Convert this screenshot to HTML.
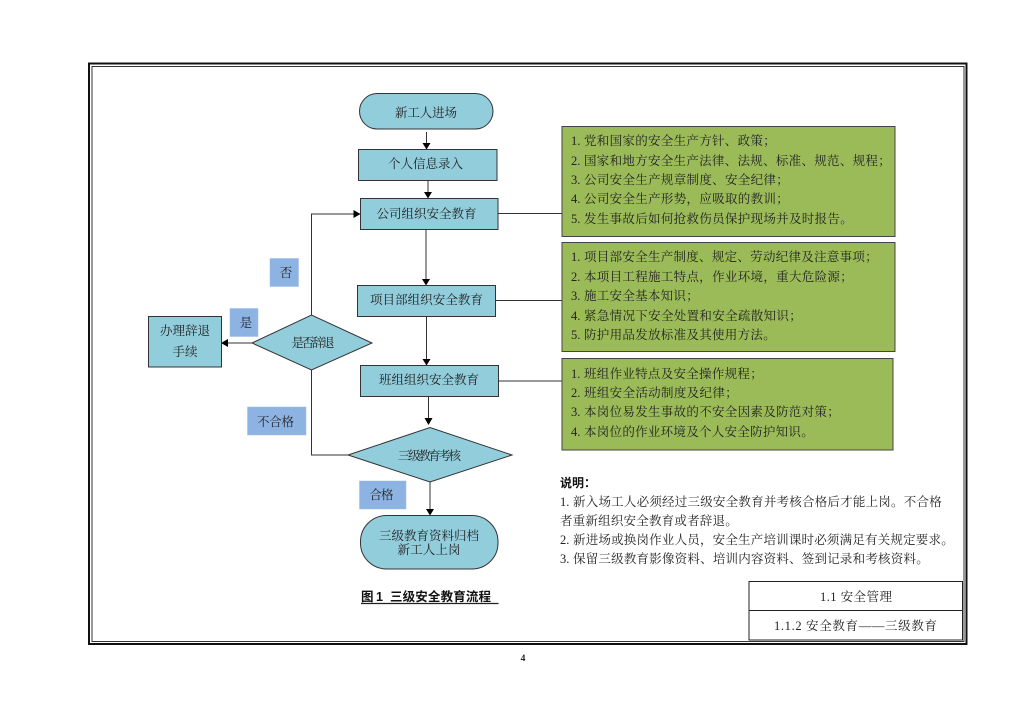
<!DOCTYPE html>
<html lang="zh"><head><meta charset="utf-8"><title>三级安全教育流程</title>
<style>
html,body{margin:0;padding:0;background:#fff;width:1024px;height:724px;overflow:hidden}
svg{display:block}
text{font-family:"Liberation Serif","Noto Serif CJK SC",serif;fill:#222;font-size:12.5px}
.z{font-family:"Noto Serif CJK SC",serif;letter-spacing:.3px}
.c{text-anchor:middle}
.l{stroke:#333;stroke-width:1;fill:none}
.b{fill:#92CDDC;stroke:#333;stroke-width:1}
.g{fill:#9BBB59;stroke:#444;stroke-width:1}
.o{fill:#8DB3E2;stroke:#9dbce6;stroke-width:.5}
.a{fill:#000}
.h{font-family:"Liberation Sans","Noto Sans CJK SC",sans-serif;font-weight:700;fill:#111}
</style></head><body>
<svg width="1024" height="724" viewBox="0 0 1024 724" xmlns="http://www.w3.org/2000/svg">
<rect x="89" y="63.5" width="877.5" height="580.5" fill="none" stroke="#111" stroke-width="2"/>
<rect x="92" y="66.5" width="872" height="575" fill="none" stroke="#333" stroke-width="1"/>

<!-- connectors -->
<path class="l" d="M426.5 132V144M428 180V193M426 229.500V280M426.500 316V360M428.500 396V419M430 482V510"/>
<path class="l" d="M311.500 315V214H354M311.500 370V455H348M252 343H227"/>
<path class="l" d="M498 213.500H562M495.500 300.500H562M498 381H562"/>
<g class="a">
<path d="M422.500 143h8l-4 6.500z"/><path d="M424 192h8l-4 6.500z"/><path d="M422 279h8l-4 6.500z"/><path d="M422.500 359h8l-4 6.500z"/><path d="M424.500 418h8l-4 7z"/><path d="M426 509h8l-4 6.500z"/>
<path d="M353.500 210v8l7-4z"/><path d="M228 339v8l-7-4z"/>
</g>

<!-- nodes -->
<rect class="b" x="359.500" y="93.500" width="133.500" height="35.500" rx="17.700"/>
<rect class="b" x="358.500" y="149.500" width="138.500" height="31"/>
<rect class="b" x="360.500" y="198.500" width="137.500" height="31"/>
<rect class="b" x="357.500" y="285.500" width="138" height="31"/>
<rect class="b" x="360.500" y="365.500" width="138" height="31"/>
<rect class="b" x="148.500" y="316.500" width="73" height="50.500"/>
<path class="b" d="M252 343L311.500 315L372 343L311.500 370Z"/>
<path class="b" d="M348 455L430 427.500L512 455L430 482Z"/>
<rect class="b" x="360.500" y="515.500" width="137.500" height="53.500" rx="26"/>
<rect class="o" x="270" y="258.500" width="28.500" height="28"/>
<rect class="o" x="230" y="308.500" width="28" height="28"/>
<rect class="o" x="247.500" y="407" width="58.500" height="28"/>
<rect class="o" x="359.500" y="481" width="46.500" height="28"/>

<!-- node labels -->
<text x="426" y="117" class="c" textLength="62">新工人进场</text>
<text x="425.500" y="168" class="c" textLength="75">个人信息录入</text>
<text x="426.500" y="218" class="c" textLength="100">公司组织安全教育</text>
<text x="426.500" y="304" class="c" textLength="113">项目部组织安全教育</text>
<text x="429" y="384" class="c" textLength="100">班组组织安全教育</text>
<text x="185" y="335" class="c" textLength="50">办理辞退</text>
<text x="185" y="356" class="c" textLength="25">手续</text>
<text x="313" y="347" class="c" textLength="43">是否辞退</text>
<text x="429.500" y="460" class="c" textLength="63">三级教育考核</text>
<text x="429" y="540" class="c" textLength="100">三级教育资料归档</text>
<text x="429" y="554" class="c" textLength="63">新工人上岗</text>
<text x="286" y="277" class="c">否</text>
<text x="246" y="327" class="c">是</text>
<text x="275.500" y="426" class="c" textLength="37">不合格</text>
<text x="381.500" y="499" class="c" textLength="24">合格</text>

<!-- green boxes -->
<rect class="g" x="562" y="126.500" width="333" height="110"/>
<rect class="g" x="562" y="242.500" width="333" height="109"/>
<rect class="g" x="562" y="358.500" width="331" height="91.500"/>
<text x="571" y="145">1.</text><text class="z" x="584" y="145" textLength="192">党和国家的安全生产方针、政策&#xFF1B;</text>
<text x="571" y="165">2.</text><text class="z" x="584" y="165" textLength="307">国家和地方安全生产法律、法规、标准、规范、规程&#xFF1B;</text>
<text x="571" y="184">3.</text><text class="z" x="584" y="184" textLength="205">公司安全生产规章制度、安全纪律&#xFF1B;</text>
<text x="571" y="203">4.</text><text class="z" x="584" y="203" textLength="205">公司安全生产形势&#xFF0C;应吸取的教训&#xFF1B;</text>
<text x="571" y="223">5.</text><text class="z" x="584" y="223" textLength="269">发生事故后如何抢救伤员保护现场并及时报告。</text>
<text x="571" y="261">1.</text><text class="z" x="584" y="261" textLength="294">项目部安全生产制度、规定、劳动纪律及注意事项&#xFF1B;</text>
<text x="571" y="281">2.</text><text class="z" x="584" y="281" textLength="269">本项目工程施工特点&#xFF0C;作业环境&#xFF0C;重大危险源&#xFF1B;</text>
<text x="571" y="300">3.</text><text class="z" x="584" y="300" textLength="115">施工安全基本知识&#xFF1B;</text>
<text x="571" y="320">4.</text><text class="z" x="584" y="320" textLength="218">紧急情况下安全处置和安全疏散知识&#xFF1B;</text>
<text x="571" y="339">5.</text><text class="z" x="584" y="339" textLength="192">防护用品发放标准及其使用方法。</text>
<text x="571" y="378">1.</text><text class="z" x="584" y="378" textLength="179">班组作业特点及安全操作规程&#xFF1B;</text>
<text x="571" y="397">2.</text><text class="z" x="584" y="397" textLength="154">班组安全活动制度及纪律&#xFF1B;</text>
<text x="571" y="416">3.</text><text class="z" x="584" y="416" textLength="256">本岗位易发生事故的不安全因素及防范对策&#xFF1B;</text>
<text x="571" y="436">4.</text><text class="z" x="584" y="436" textLength="230">本岗位的作业环境及个人安全防护知识。</text>

<!-- notes -->
<text x="560" y="487" class="h" style="font-size:12px" textLength="36">说明&#xFF1A;</text>
<text x="560" y="506">1.</text><text class="z" x="573" y="506" textLength="369">新入场工人必须经过三级安全教育并考核合格后才能上岗。不合格</text>
<text class="z" x="560" y="525" textLength="178">者重新组织安全教育或者辞退。</text>
<text x="560" y="544">2.</text><text class="z" x="573" y="544" textLength="381">新进场或换岗作业人员&#xFF0C;安全生产培训课时必须满足有关规定要求。</text>
<text x="560" y="563">3.</text><text class="z" x="573" y="563" textLength="356">保留三级教育影像资料、培训内容资料、签到记录和考核资料。</text>

<!-- table -->
<rect x="749" y="581.500" width="213.500" height="58.500" fill="#fff" stroke="#222" stroke-width="1"/>
<path d="M749 610.500H962.500" stroke="#222" stroke-width="1"/>
<text x="856" y="601" class="c" textLength="72">1.1 安全管理</text>
<text x="855.500" y="630" class="c" textLength="163">1.1.2 安全教育——三级教育</text>

<!-- caption -->
<text x="361" y="601" class="h" style="font-size:12.5px" textLength="22">图 1</text>
<text x="390" y="601" class="h" style="font-size:12.5px" textLength="101">三级安全教育流程</text>
<path d="M361 603.500H498.500" stroke="#222" stroke-width="1.200"/>
<text x="523" y="661" class="c" style="font-size:9.500px;font-weight:700">4</text>
</svg>
</body></html>
